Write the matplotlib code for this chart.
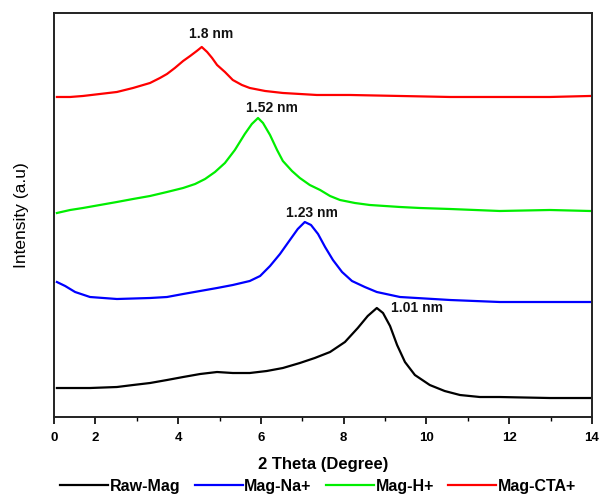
import matplotlib
matplotlib.use("Agg")
import matplotlib.pyplot as plt

plt.rcParams['font.family'] = ['Liberation Sans', 'DejaVu Sans']

# 2-theta (degree) and intensity (a.u., already stacked)
raw_x = [1.07, 1.51, 1.87, 2.52, 2.91, 3.32, 3.73, 4.12, 4.53, 4.94, 5.32, 5.73, 6.14, 6.53,
         6.94, 7.30, 7.67, 8.03, 8.34, 8.58, 8.80, 8.95, 9.12, 9.29, 9.48, 9.72, 10.08,
         10.44, 10.81, 11.29, 11.77, 12.98, 13.95]
raw_y = [29, 29, 29, 30, 32, 34, 37, 40, 43, 45, 44, 44, 46, 49,
         54, 59, 65, 75, 89, 101, 109, 104, 91, 72, 55, 42, 32,
         26, 22, 20, 20, 19, 19]

na_x = [1.07, 1.27, 1.51, 1.87, 2.52, 3.32, 3.73, 4.12, 4.53, 4.94, 5.32, 5.73, 5.98, 6.22,
        6.46, 6.70, 6.89, 7.06, 7.21, 7.38, 7.55, 7.74, 7.96, 8.20, 8.51, 8.80, 9.36,
        10.57, 11.77, 12.98, 13.95]
na_y = [135, 131, 125, 120, 118, 119, 120, 123, 126, 129, 132, 136, 141, 151,
        163, 177, 188, 195, 192, 183, 170, 157, 145, 136, 130, 125, 120,
        117, 115, 115, 115]

h_x = [1.07, 1.39, 1.70, 2.11, 2.52, 2.91, 3.32, 3.73, 4.12, 4.41, 4.65, 4.89, 5.13, 5.37,
       5.61, 5.78, 5.93, 6.05, 6.22, 6.39, 6.53, 6.75, 6.94, 7.18, 7.43, 7.67, 7.91,
       8.27, 8.63, 9.36, 9.84, 10.57, 11.77, 12.98, 13.95]
h_y = [204, 207, 209, 212, 215, 218, 221, 225, 229, 233, 238, 245, 254, 267,
       283, 293, 299, 294, 282, 267, 256, 246, 239, 232, 227, 221, 217,
       214, 212, 210, 209, 208, 206, 207, 206]

cta_x = [1.07, 1.39, 1.70, 2.11, 2.52, 2.91, 3.32, 3.56, 3.73, 3.92, 4.12, 4.29, 4.45, 4.57,
         4.70, 4.82, 4.94, 5.13, 5.32, 5.54, 5.73, 6.10, 6.53, 6.94, 7.35, 8.15, 9.36,
         10.57, 11.77, 12.98, 13.95]
cta_y = [320, 320, 321, 323, 325, 329, 334, 339, 343, 349, 356, 361, 366, 370,
         365, 359, 352, 345, 337, 332, 329, 326, 324, 323, 322, 322, 321,
         320, 320, 320, 321]

series_names = ["Raw-Mag", "Mag-Na+", "Mag-H+", "Mag-CTA+"]
peak_labels = ["1.01 nm", "1.23 nm", "1.52 nm", "1.8 nm"]
peak_label_x = [9.77, 7.23, 6.27, 4.79]
peak_label_y = [109, 204, 309, 383]

xtick_pos = [1, 2, 4, 6, 8, 10, 12, 14]
xtick_labels = ["0", "2", "4", "6", "8", "10", "12", "14"]

colors = ["#000000", "#0000ff", "#00ee00", "#ff0000"]

fig = plt.figure(figsize=(6.0, 4.99), dpi=100)
ax = fig.add_axes([0.09, 0.1643, 0.8967, 0.8097])

data = [(raw_x, raw_y), (na_x, na_y), (h_x, h_y), (cta_x, cta_y)]
for (xs, ys), c, name in zip(data, colors, series_names):
    ax.plot(xs, ys, color=c, lw=1.6, label=name)

for t, px, py in zip(peak_labels, peak_label_x, peak_label_y):
    ax.text(px, py, t, ha='center', va='center', fontsize=10, fontweight='bold', color='#111111')

ax.set_xlim(1, 14)
ax.set_ylim(0, 404)
ax.set_xticks(xtick_pos)
ax.set_xticklabels(xtick_labels, fontweight='bold', fontsize=9.5)
ax.set_xticks([3, 5, 7, 9, 11, 13], minor=True)
ax.tick_params(axis='x', which='major', direction='out', length=5, width=1.2, pad=6)
ax.tick_params(axis='x', which='minor', direction='out', length=3, width=1.0)
ax.set_yticks([])
for s in ax.spines.values():
    s.set_linewidth(1.4)
    s.set_color('#222222')

ax.set_xlabel("2 Theta (Degree)", fontsize=12, fontweight='bold', labelpad=9)
ax.set_ylabel("Intensity (a.u)", fontsize=12.5, labelpad=18)

fig.legend(loc='center', bbox_to_anchor=(0.53, 0.025), ncol=4, frameon=False,
           prop={'weight': 'bold', 'size': 11.5}, handlelength=3.0, handletextpad=0.1,
           columnspacing=0.9)

fig.savefig("out.png", dpi=100)
